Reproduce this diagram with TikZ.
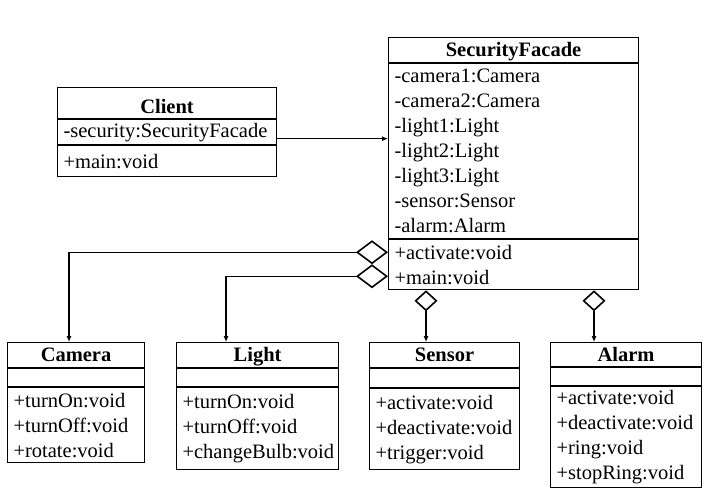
\documentclass[tikz,border=0pt]{standalone}
\usepackage{fontspec}
\setmainfont{Liberation Serif}
\usetikzlibrary{arrows.meta,positioning}
\newcommand{\umlfont}{\fontsize{20.5}{25}\selectfont}

\begin{document}
\begin{tikzpicture}[x=1pt, y=-1pt, line width=1.1pt,
  part/.style={draw, inner xsep=6pt, inner ysep=0pt, align=left, font=\umlfont},
  head/.style={part, align=center, font=\umlfont\bfseries, text height=14pt, text depth=1pt},
  assoc/.style={-{Latex[length=6pt,width=5pt]}},
  agg/.style={{Diamond[open,line width=1.6pt,length=32pt,width=24pt]}-{Latex[length=6pt,width=5pt]}},
  aggv/.style={{Diamond[open,line width=1.6pt,length=21pt,width=23pt]}-{Latex[length=6pt,width=5pt]}}]
  \useasboundingbox (0,0) rectangle (710,490);

  % Client
  \node[head, text width=207pt, minimum height=31pt, text height=22pt, anchor=north west] (client) at (57,87) {Client};
  \node[part, text width=207pt, minimum height=25pt, below=0pt of client] (clientattr) {-security:SecurityFacade};
  \node[part, text width=207pt, minimum height=31pt, below=0pt of clientattr] (clientop) {+main:void};

  % SecurityFacade
  \node[head, text width=238pt, minimum height=25pt, anchor=north west] (facade) at (388,37) {SecurityFacade};
  \node[part, text width=238pt, minimum height=175pt, below=0pt of facade] (facadeattr)
    {-camera1:Camera\\-camera2:Camera\\-light1:Light\\-light2:Light\\-light3:Light\\-sensor:Sensor\\-alarm:Alarm};
  \node[part, text width=238pt, minimum height=50pt, below=0pt of facadeattr] (facadeop) {+activate:void\\+main:void};

  % Camera
  \node[head, text width=125pt, minimum height=25pt, anchor=north west] (camera) at (7,342) {Camera};
  \node[part, text width=125pt, minimum height=18pt, below=0pt of camera] (cameraattr) {};
  \node[part, text width=125pt, minimum height=75pt, below=0pt of cameraattr] (cameraop)
    {+turnOn:void\\+turnOff:void\\+rotate:void};

  % Light
  \node[head, text width=150pt, minimum height=25pt, anchor=north west] (light) at (176,342) {Light};
  \node[part, text width=150pt, minimum height=18pt, below=0pt of light] (lightattr) {};
  \node[part, text width=150pt, minimum height=82pt, below=0pt of lightattr] (lightop)
    {+turnOn:void\\+turnOff:void\\+changeBulb:void};

  % Sensor
  \node[head, text width=138pt, minimum height=25pt, anchor=north west] (sensor) at (369,342) {Sensor};
  \node[part, text width=138pt, minimum height=19pt, below=0pt of sensor] (sensorattr) {};
  \node[part, text width=138pt, minimum height=81pt, below=0pt of sensorattr] (sensorop)
    {+activate:void\\+deactivate:void\\+trigger:void};

  % Alarm
  \node[head, text width=139pt, minimum height=24pt, anchor=north west] (alarm) at (550,342) {Alarm};
  \node[part, text width=139pt, minimum height=18pt, below=0pt of alarm] (alarmattr) {};
  \node[part, text width=139pt, minimum height=101pt, below=0pt of alarmattr] (alarmop)
    {+activate:void\\+deactivate:void\\+ring:void\\+stopRing:void};

  % connectors
  \path ([yshift=-6.5pt]clientattr.east) coordinate (cl)
        ([yshift=12.5pt]facadeop.west) coordinate (f1)
        ([yshift=-11.5pt]facadeop.west) coordinate (f2)
        ([xshift=38pt]facadeop.south west) coordinate (f3)
        ([xshift=206pt]facadeop.south west) coordinate (f4)
        ([xshift=62pt]camera.north west) coordinate (ca)
        ([xshift=50pt]light.north west) coordinate (li);
  \draw[assoc] (cl) -- (cl -| facadeattr.west);
  \draw[agg] (f1) -| (ca);
  \draw[agg] (f2) -| (li);
  \draw[aggv] (f3) -- (f3 |- sensor.north);
  \draw[aggv] (f4) -- (f4 |- alarm.north);
\end{tikzpicture}
\end{document}
